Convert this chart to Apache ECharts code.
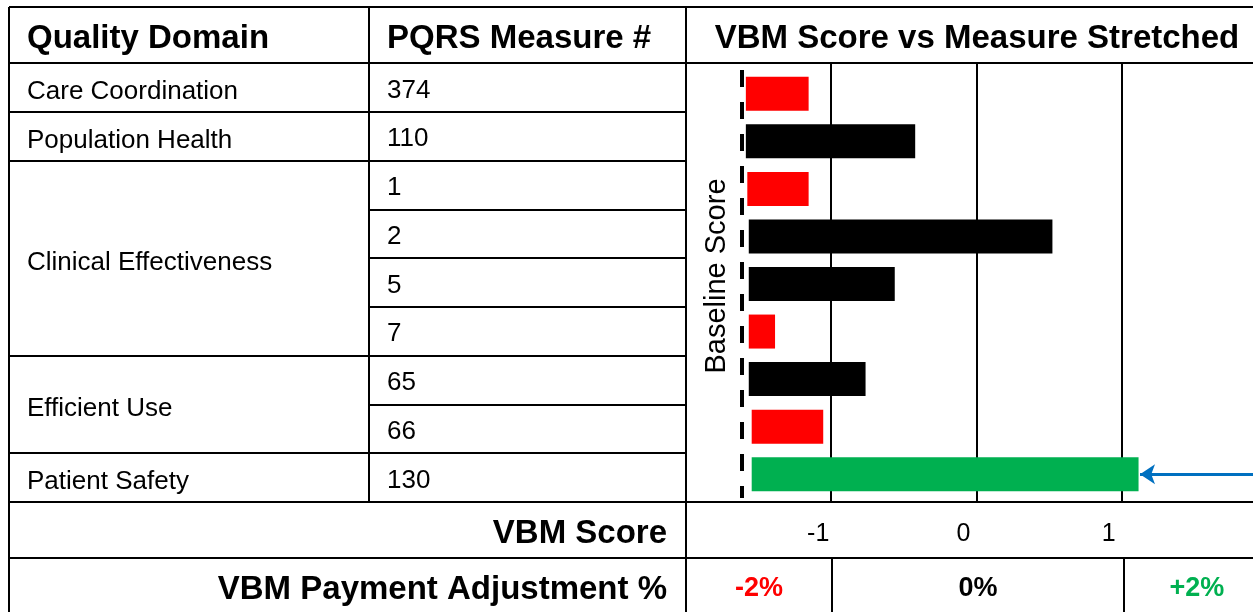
<!DOCTYPE html>
<html>
<head>
<meta charset="utf-8">
<title>VBM Score vs Measure Stretched</title>
<script src="https://cdn.jsdelivr.net/npm/echarts@6/dist/echarts.min.js"></script>
<style>
    html, body { margin: 0; padding: 0; background: #fff; }
    #chart { width: 1253px; height: 612px; }
</style>
</head>
<body>
<div id="chart"></div>
<script>
// table rows
var measures = ['374', '110', '1', '2', '5', '7', '65', '66', '130'];
var domains = ['Care Coordination', 'Population Health', 'Clinical Effectiveness', 'Efficient Use', 'Patient Safety'];
var domainRows = [1, 1, 4, 2, 1];

// bars run from the baseline to the measure's score
var barStart = [-1.59, -1.59, -1.58, -1.57, -1.57, -1.57, -1.57, -1.55, -1.55];
var barEnd = [-1.16, -0.43, -1.16, 0.51, -0.57, -1.39, -0.77, -1.06, 1.10];
var baselineScore = -1.62;
var scoreTicks = [-1, 0, 1];

// payment adjustment bands
var payCuts = [-1, 1];
var payPos = [-1.5, 0, 1.5];
var payLabels = ['-2%', '0%', '+2%'];

var FONT = '"Liberation Sans", Arial, sans-serif';
var X_MIN = -2, X_MAX = 1.884;

// layout of the table frame
var L = 9, C1 = 369, C2 = 686, R = 1253;
var T = 7, HEAD = 63, BODY = 502, SCORE = 558, BOTTOM = 612;

function bandColor(v) {
    if (v < payCuts[0]) return '#ff0000';
    if (v > payCuts[1]) return '#00b050';
    return '#000000';
}

var chart = echarts.init(document.getElementById('chart'), null, {renderer: 'canvas'});

var domainData = [];
var row = 0;
for (var i = 0; i < domains.length; i++) {
    domainData.push([row, row + domainRows[i], i]);
    row += domainRows[i];
}

function renderDomain(params, api) {
    var p0 = api.coord([0, api.value(0)]);
    var p1 = api.coord([1, api.value(1)]);
    var y0 = Math.round(p0[1]), y1 = Math.round(p1[1]);
    return {
        type: 'group',
        children: [{
            type: 'rect',
            shape: {x: p0[0], y: y0, width: p1[0] - p0[0], height: y1 - y0},
            style: {fill: 'none', stroke: '#000', lineWidth: 2}
        }, {
            type: 'text',
            x: p0[0] + 18,
            y: (y0 + y1) / 2 + 4,
            style: {
                text: domains[api.value(2)],
                fill: '#000',
                font: '26px ' + FONT,
                verticalAlign: 'middle',
                align: 'left'
            }
        }]
    };
}

function hline(x1, x2, y) {
    return {type: 'line', shape: {x1: x1, y1: y, x2: x2, y2: y}, style: {stroke: '#000', lineWidth: 2}, z: 10};
}
function vline(x, y1, y2) {
    return {type: 'line', shape: {x1: x, y1: y1, x2: x, y2: y2}, style: {stroke: '#000', lineWidth: 2}, z: 10};
}
function label(text, x, y, align, size, bold) {
    return {
        type: 'text', x: x, y: y, z: 10,
        style: {
            text: text, fill: '#000', align: align, verticalAlign: 'middle',
            font: (bold ? 'bold ' : '') + size + 'px ' + FONT
        }
    };
}

var option = {
    animation: false,
    grid: [
        {left: L, top: HEAD, width: C1 - L, height: BODY - HEAD},
        {left: C1, top: HEAD, width: C2 - C1, height: BODY - HEAD},
        {left: C2, top: HEAD, right: 0, height: BODY - HEAD},
        {left: C2, top: 70, right: 0, bottom: 114},
        {left: C2, top: SCORE, right: 0, bottom: 0}
    ],
    xAxis: [
        {gridIndex: 0, type: 'value', min: 0, max: 1, show: false},
        {gridIndex: 1, type: 'value', min: 0, max: 1, show: false},
        {
            gridIndex: 2, type: 'value', min: X_MIN, max: X_MAX, interval: 1,
            axisLine: {show: false},
            axisTick: {show: false},
            splitLine: {
                show: true, showMinLine: false, showMaxLine: false,
                lineStyle: {color: '#000', width: 2}
            },
            axisLabel: {
                margin: 20,
                color: '#000',
                fontSize: 25,
                fontFamily: FONT,
                padding: [0, 26, 0, 0],
                formatter: function (v) {
                    return scoreTicks.indexOf(v) >= 0 ? String(v) : '';
                }
            }
        },
        {gridIndex: 3, type: 'value', min: X_MIN, max: X_MAX, show: false},
        {gridIndex: 4, type: 'value', min: X_MIN, max: X_MAX, show: false}
    ],
    yAxis: [
        {gridIndex: 0, type: 'value', inverse: true, min: 0, max: measures.length, show: false},
        {
            gridIndex: 1, type: 'category', inverse: true, data: measures,
            axisLine: {show: false},
            axisTick: {show: false},
            axisLabel: {show: false},
            splitLine: {show: true, lineStyle: {color: '#000', width: 2}}
        },
        {gridIndex: 2, type: 'category', inverse: true, data: measures, show: false},
        {
            gridIndex: 3, type: 'category', inverse: true, data: measures,
            axisLine: {show: false},
            axisTick: {show: false},
            axisLabel: {show: false},
            name: 'Baseline Score',
            nameLocation: 'middle',
            nameRotate: 90,
            nameGap: -45,
            nameTextStyle: {color: '#000', fontSize: 29, fontFamily: FONT, padding: [0, 0, 0, 16]}
        },
        {gridIndex: 4, type: 'value', min: 0, max: 1, show: false}
    ],
    series: [{
        type: 'custom',
        xAxisIndex: 0,
        yAxisIndex: 0,
        renderItem: renderDomain,
        encode: {y: [0, 1]},
        data: domainData,
        silent: true
    }, {
        name: 'measure',
        type: 'scatter',
        xAxisIndex: 1,
        yAxisIndex: 1,
        symbolSize: 0,
        silent: true,
        itemStyle: {opacity: 1},
        label: {
            show: true, position: 'right', distance: 18, offset: [0, 3],
            formatter: '{b}', color: '#000', fontSize: 26, fontFamily: FONT
        },
        data: measures.map(function (m) { return {name: m, value: [0, m]}; })
    }, {
        name: 'base',
        type: 'bar',
        xAxisIndex: 3,
        yAxisIndex: 3,
        stack: 'score',
        stackStrategy: 'all',
        barWidth: 34,
        itemStyle: {color: 'transparent'},
        data: barStart,
        silent: true,
        markLine: {
            silent: true,
            symbol: 'none',
            label: {show: false},
            lineStyle: {color: '#000', width: 4, type: [17, 15]},
            data: [{xAxis: baselineScore}]
        }
    }, {
        name: 'score',
        type: 'bar',
        xAxisIndex: 3,
        yAxisIndex: 3,
        stack: 'score',
        stackStrategy: 'all',
        barWidth: 34,
        data: barEnd.map(function (v, i) {
            return {value: v - barStart[i], itemStyle: {color: bandColor(v)}};
        }),
        silent: true,
        markLine: {
            silent: true,
            symbol: ['none', 'arrow'],
            symbolSize: [15, 15],
            label: {show: false},
            lineStyle: {color: '#0070c0', width: 3, type: 'solid'},
            data: [[
                {coord: [X_MAX, measures.length - 1]},
                {coord: [barEnd[barEnd.length - 1] + 0.01, measures.length - 1]}
            ]]
        }
    }, {
        name: 'payment',
        type: 'scatter',
        xAxisIndex: 4,
        yAxisIndex: 4,
        symbolSize: 0,
        silent: true,
        itemStyle: {opacity: 1},
        data: payPos.map(function (x, i) {
            return {
                value: [x, 0.5],
                label: {
                    show: true, position: 'inside', formatter: payLabels[i], offset: [0, 4],
                    color: bandColor(x), fontSize: 27, fontWeight: 'bold', fontFamily: FONT
                }
            };
        }),
        markLine: {
            silent: true,
            symbol: 'none',
            label: {show: false},
            lineStyle: {color: '#000', width: 2, type: 'solid'},
            data: payCuts.map(function (v) { return {xAxis: v}; })
        }
    }],
    graphic: [
        hline(L, R, T), hline(L, R, HEAD), hline(L, R, BODY), hline(L, R, SCORE),
        vline(L, T, BOTTOM), vline(C1, T, BODY), vline(C2, T, BOTTOM),
        label('Quality Domain', 27, 39, 'left', 33, true),
        label('PQRS Measure #', 387, 39, 'left', 33, true),
        label('VBM Score vs Measure Stretched', 977, 39, 'center', 33, true),
        label('VBM Score', 667, 534, 'right', 33, true),
        label('VBM Payment Adjustment %', 667, 590, 'right', 33, true)
    ]
};

chart.setOption(option);
</script>
</body>
</html>
